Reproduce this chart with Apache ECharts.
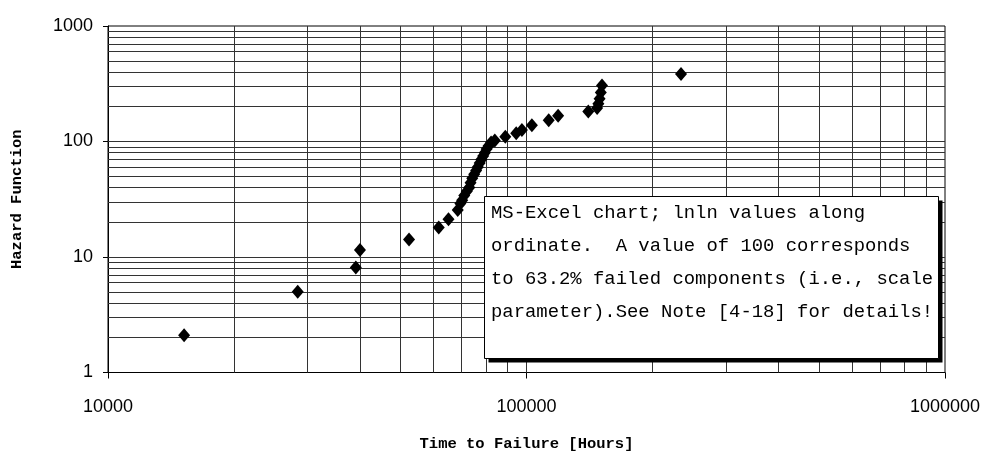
<!DOCTYPE html>
<html>
<head>
<meta charset="utf-8">
<script src="https://cdn.jsdelivr.net/npm/echarts@6/dist/echarts.min.js"></script>
<style>html,body{margin:0;padding:0;background:#fff}#c{width:990px;height:464px}</style>
</head>
<body>
<div id="c"></div>
<script>
// Time to failure [hours]
var timeToFailure = [15200, 28400, 39100, 40000, 52400, 61700, 65100, 68500, 69500, 70200, 71000, 72000, 73000, 73500, 74200, 75000, 75800, 76500, 77300, 78000, 78800, 79500, 80300, 81200, 82300, 84000, 89000, 94500, 97500, 103000, 113000, 119000, 140500, 147500, 148500, 149500, 150500, 151500, 234000];
// Hazard function values
var hazard = [2.1, 5.0, 8.1, 11.5, 14.2, 18.0, 21.2, 25.5, 29, 31, 34, 37, 40, 44, 48, 52, 56, 60, 65, 70, 75, 80, 86, 92, 98, 102, 110, 118, 126, 138, 153, 167, 182, 195, 212, 235, 265, 305, 385];
// Log grid lines
var xGridValues = [20000,30000,40000,50000,60000,70000,80000,90000,200000,300000,400000,500000,600000,700000,800000,900000];
var yGridValues = [2,3,4,5,6,7,8,9,20,30,40,50,60,70,80,90,200,300,400,500,600,700,800,900];
var xMajor = [100000];
var yMajor = [10, 100];
var noteLines = [
  "MS-Excel chart; lnln values along",
  "ordinate.  A value of 100 corresponds",
  "to 63.2% failed components (i.e., scale",
  "parameter).See Note [4-18] for details!"
];

var points = timeToFailure.map(function (t, i) { return [t, hazard[i]]; });
var gridLines = [];
xGridValues.concat(xMajor).forEach(function (v) { gridLines.push({ xAxis: v }); });
yGridValues.concat(yMajor).forEach(function (v) { gridLines.push({ yAxis: v }); });
function plain(v) { return String(Math.round(v)); }

var chart = echarts.init(document.getElementById('c'), null, { renderer: 'canvas' });
chart.setOption({
  backgroundColor: '#fff',
  animation: false,
  grid: { left: 108, right: 45, top: 26, bottom: 91.5, show: true, borderColor: '#000', borderWidth: 1 },
  xAxis: {
    type: 'log', logBase: 10, min: 10000, max: 1000000,
    name: 'Time to Failure [Hours]', nameLocation: 'middle', nameGap: 64,
    nameTextStyle: { fontFamily: 'Liberation Mono', fontWeight: 'bold', fontSize: 15.5, color: '#000' },
    axisLine: { lineStyle: { color: '#000', width: 1 } },
    axisTick: { show: true, length: 6, lineStyle: { color: '#000' } },
    axisLabel: { margin: 26, fontFamily: 'Liberation Sans', fontSize: 18, color: '#000', formatter: plain },
    splitLine: { show: false }
  },
  yAxis: {
    type: 'log', logBase: 10, min: 1, max: 1000,
    name: 'Hazard Function', nameLocation: 'middle', nameGap: 83,
    nameTextStyle: { fontFamily: 'Liberation Mono', fontWeight: 'bold', fontSize: 15.5, color: '#000' },
    axisLine: { lineStyle: { color: '#000', width: 1 } },
    axisTick: { show: true, length: 5, lineStyle: { color: '#000' } },
    axisLabel: { margin: 15, fontFamily: 'Liberation Sans', fontSize: 18, color: '#000', formatter: plain },
    splitLine: { show: false }
  },
  series: [{
    type: 'scatter',
    data: points,
    symbol: 'diamond',
    symbolSize: [12, 14],
    itemStyle: { color: '#000', opacity: 1 },
    z: 5,
    markLine: {
      silent: true,
      symbol: ['none', 'none'],
      label: { show: false },
      lineStyle: { color: '#333', width: 1, type: 'solid', opacity: 1 },
      data: gridLines,
      z: 1
    }
  }],
  graphic: [
    { type: 'rect', z: 100, shape: { x: 488.5, y: 200.5, width: 454, height: 162 }, style: { fill: '#000' } },
    { type: 'rect', z: 101, shape: { x: 484.5, y: 196.5, width: 454, height: 162 }, style: { fill: '#fff', stroke: '#000', lineWidth: 1 } },
    { type: 'text', z: 102, left: 491, top: 196.5, style: { text: noteLines.join('\n'), font: '18.9px "Liberation Mono"', lineHeight: 33, fill: '#000' } }
  ]
});
</script>
</body>
</html>
